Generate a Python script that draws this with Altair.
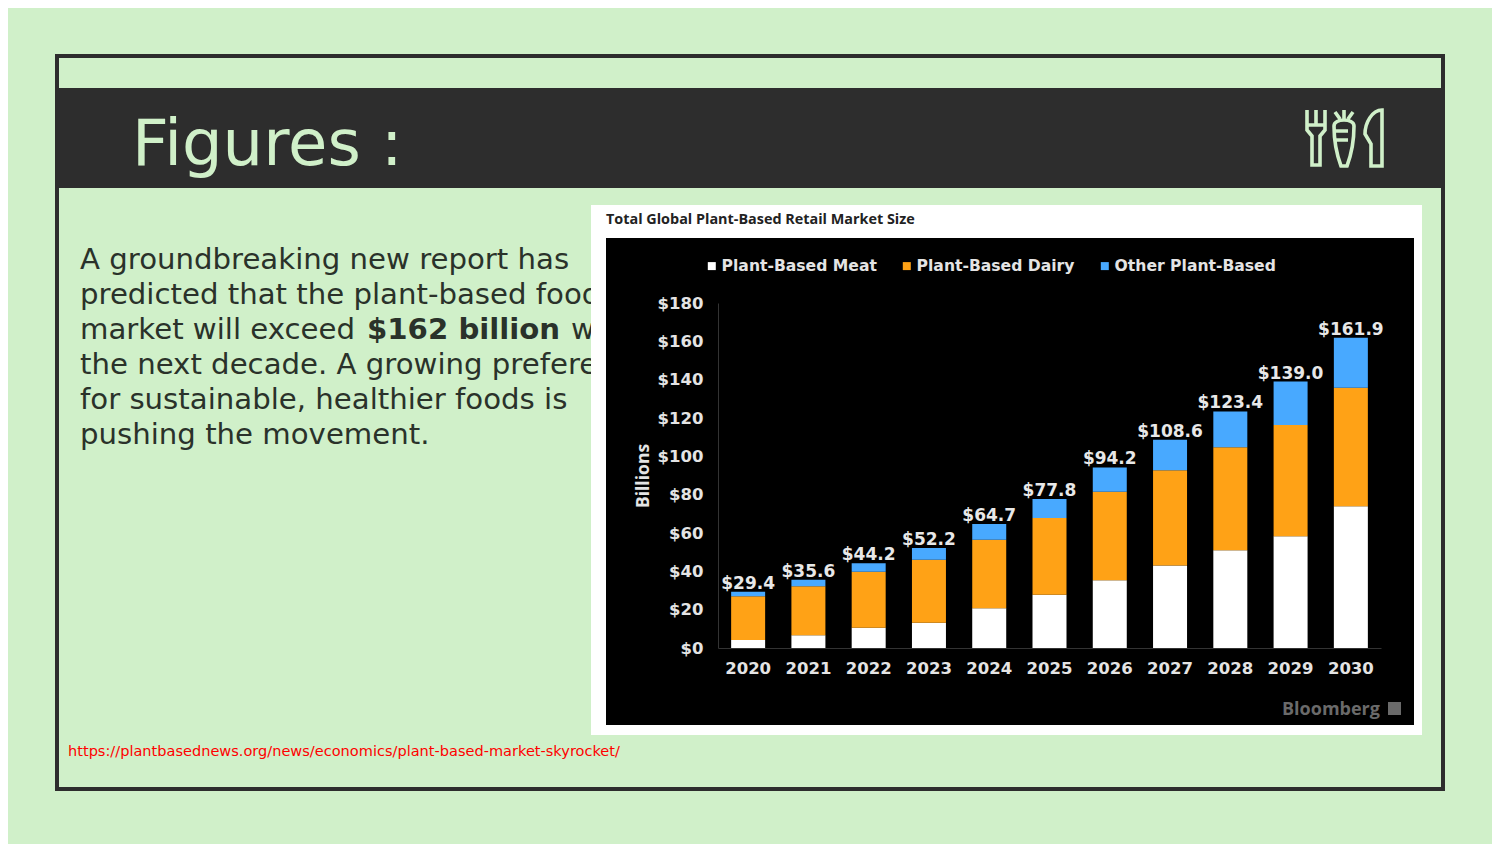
import altair as alt
import pandas as pd

years = ["2020","2021","2022","2023","2024","2025","2026","2027","2028","2029","2030"]
meat = [4.2,6.6,10.6,13.2,20.7,27.8,35.3,43.0,51.0,58.3,73.9]
dairy = [22.8,25.6,29.2,32.9,35.8,40.0,46.2,49.7,53.7,58.0,61.9]
other = [2.4,3.4,4.4,6.1,8.2,10.0,12.7,15.9,18.7,22.7,26.1]
totals = [29.4,35.6,44.2,52.2,64.7,77.8,94.2,108.6,123.4,139.0,161.9]
series = ["Plant-Based Meat","Plant-Based Dairy","Other Plant-Based"]
colors = ["#FFFFFF","#FFA216","#48A9FF"]
y_ticks = [0,20,40,60,80,100,120,140,160,180]

para = ["A groundbreaking new report has","predicted that the plant-based food","market will exceed ",
        "the next decade. A growing preference","for sustainable, healthier foods is","pushing the movement."]

BG = "#D0F0C9"; DARK = "#2D2D2D"; TXT = "#2A322A"
PL, PT = 718, 303
W, H = 663, 345
one = alt.Data(values=[{}])
X = lambda v: alt.value(v - PL)
Y = lambda v: alt.value(v - PT)

def rect(x0, x1, y0, y1, **kw):
    return alt.Chart(one).mark_rect(**kw).encode(x=X(x0), x2=X(x1), y=Y(y0), y2=Y(y1))

def label(s, x, y, size, color, font="DejaVu Sans", weight="normal", align="left", **kw):
    return alt.Chart(one).mark_text(text=s, font=font, fontSize=size, fontWeight=weight, color=color,
                                    align=align, baseline="alphabetic", **kw).encode(x=X(x), y=Y(y))

def icon(path, x, y):
    return alt.Chart(one).mark_point(shape=path, size=4, filled=False, stroke="#D0F0C9", strokeWidth=3.6,
                                     opacity=1).encode(x=X(x), y=Y(y))

fork = "M-9 -28 V-8 L-4 -2 V27 H4 V-2 L9 -8 V-28 M0 -28 V-12 M-9 -13 H9"
carrot = ("M-10 -12 C-10 -20 10 -20 10 -12 C10 5 6 20 3 28 H-3 C-6 20 -10 5 -10 -12 Z "
          "M0 -18 V-28 M-4 -19 L-9 -26 M4 -19 L9 -26 M-10 -7 H4 M-8 2 H4")
knife = "M8 -28 C-2 -28 -9 -15 -9 -4 L-3 6 V28 H8 Z"

decor = [
    rect(57, 1443, 56, 789, fill=BG, stroke=DARK, strokeWidth=4),
    rect(59, 1441, 88, 188, fill=DARK),
    label("Figures :", 132, 165, 64, BG),
    icon(fork, 1316, 138), icon(carrot, 1344, 138), icon(knife, 1374, 138),
    label(para[0], 80, 269, 29.2, TXT),
    label(para[1], 80, 304, 29.2, TXT),
    label(para[2], 80, 339, 29.2, TXT),
    label("$162 billion", 367, 339, 29.2, TXT, weight="bold"),
    label("within", 571, 339, 29.2, TXT),
    label(para[3], 80, 374, 29.2, TXT),
    label(para[4], 80, 409, 29.2, TXT),
    label(para[5], 80, 444, 29.2, TXT),
    label("https://plantbasednews.org/news/economics/plant-based-market-skyrocket/", 68, 756, 14.55, "#FF0000"),
    rect(591, 1422, 205, 735, fill="#FFFFFF"),
    rect(606, 1414, 238, 725, fill="#000000"),
    label("Total Global Plant-Based Retail Market Size", 606, 224, 14.4, "#222222", font="Open Sans", weight="bold"),
    label("Bloomberg", 1282, 715, 18, "#6A6A6A", font="Open Sans", weight="bold"),
    rect(1388, 1401, 702, 715, fill="#6A6A6A"),
]

rows = []
for i, yr in enumerate(years):
    for j, (s, vals) in enumerate(zip(series, [meat, dairy, other])):
        rows.append({"year": yr, "series": s, "value": vals[i], "o": j})
df = pd.DataFrame(rows)
tot = pd.DataFrame({"year": years, "total": totals, "lab": [f"${t:.1f}" for t in totals]})

x_enc = alt.X("year:O", title=None, sort=years,
              scale=alt.Scale(paddingInner=0.436, paddingOuter=0.218),
              axis=alt.Axis(labelAngle=0, labelFont="DejaVu Sans", labelFontWeight="bold", labelFontSize=16.5,
                            labelColor="#E4E4E4", labelPadding=12, ticks=False, domainColor="#333333", grid=False,
                            zindex=1))

y_axis = alt.Axis(values=y_ticks, format="$d", labelFont="DejaVu Sans", labelFontWeight="bold",
                  labelFontSize=16.5, labelColor="#E4E4E4", labelPadding=15, labelOverlap=False,
                  ticks=False, domainColor="#333333", grid=False, titleFont="Open Sans",
                  titleFontWeight="bold", titleFontSize=17.5, titleColor="#E4E4E4", titlePadding=5,
                  zindex=1)
y_scale = alt.Scale(domain=[0, 180], nice=False)

bars = alt.Chart(df).mark_bar().encode(
    x=x_enc,
    y=alt.Y("value:Q", stack="zero", title="Billions", scale=y_scale, axis=y_axis),
    color=alt.Color("series:N", sort=series, title=None,
                    scale=alt.Scale(domain=series, range=colors),
                    legend=alt.Legend(orient="none", legendX=-14, legendY=-45, direction="horizontal", columns=3,
                                      symbolType="square", symbolSize=64, symbolStrokeWidth=0, labelOffset=2,
                                      labelFont="DejaVu Sans", labelFontWeight="bold", labelFontSize=15.6,
                                      labelColor="#E4E4E4", labelLimit=300, columnPadding=22)),
    order=alt.Order("o:Q"),
)

values = alt.Chart(tot).mark_text(font="DejaVu Sans", fontWeight="bold", fontSize=17, color="#E8E8E8",
                                  baseline="alphabetic", dy=-3).encode(
    x=x_enc, y=alt.Y("total:Q", title="Billions", scale=y_scale, axis=y_axis), text="lab:N")

chart = alt.layer(*decor, bars, values).properties(
    width=W, height=H, background=BG, autosize=alt.AutoSizeParams(type="none"),
    padding={"left": PL - 8, "top": PT - 8, "right": 1484 - (PL - 8) - W, "bottom": 836 - (PT - 8) - H},
).configure_view(stroke=None).configure_axis(labelOverlap=False)

chart.save("out.html", embed_options={"renderer": "svg", "actions": False})
